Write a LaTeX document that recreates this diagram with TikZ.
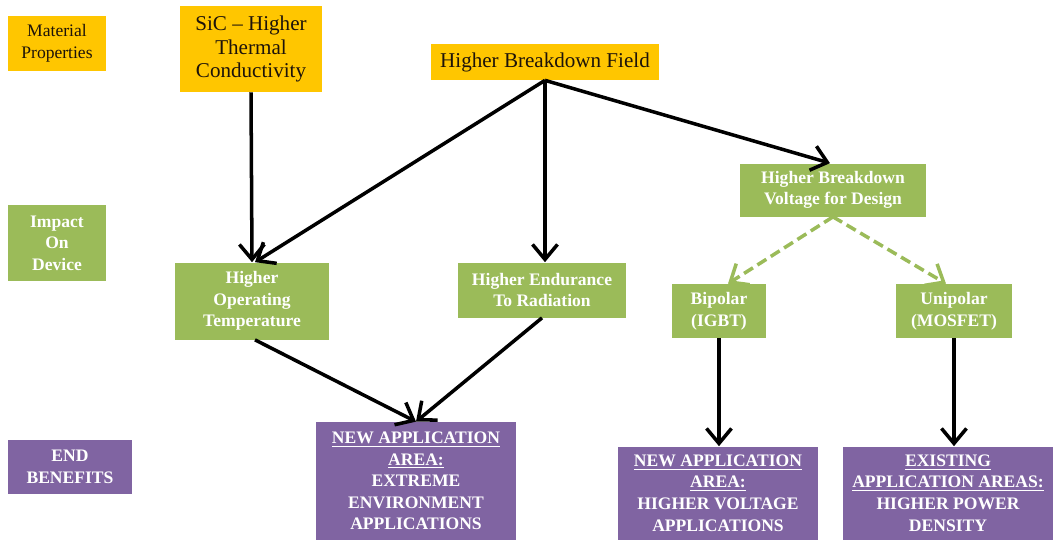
\documentclass[tikz,border=0pt]{standalone}
\usepackage{fontspec}
\setmainfont{Liberation Serif}
\usetikzlibrary{arrows.meta}

\definecolor{propyellow}{HTML}{FFC600}
\definecolor{impgreen}{HTML}{9BBB59}
\definecolor{benpurple}{HTML}{8064A2}

\tikzset{
  prop/.style={fill=propyellow, text=black!85!brown, align=center, inner sep=0pt, font=\fontsize{12}{13.2}\selectfont},
  impact/.style={fill=impgreen, text=white, align=center, inner sep=0pt, font=\bfseries\fontsize{10}{12.3}\selectfont},
  benefit/.style={fill=benpurple, text=white, align=center, inner sep=0pt, font=\bfseries\fontsize{10}{12.3}\selectfont},
  arr/.style={black, line width=2pt, -{Straight Barb[length=3mm,width=5mm]}},
  dasharr/.style={impgreen, line width=2pt, dashed, dash pattern=on 6pt off 3pt, -{Straight Barb[length=3mm,width=5mm]}}
}

\begin{document}
\begin{tikzpicture}[x=0.02cm, y=-0.02cm]
\useasboundingbox (0,0) rectangle (1054,542);

% row labels
\node[prop, font=\fontsize{10}{12.5}\selectfont, minimum width=1.98cm, minimum height=1.1cm] (matprop) at (57, 43) {Material\\Properties};
\node[impact, minimum width=1.96cm, minimum height=1.52cm] (impdev) at (57, 243) {Impact\\On\\Device};
\node[benefit, minimum width=2.5cm, minimum height=1.08cm] (endben) at (70, 467) {END\\BENEFITS};

% material properties
\node[prop, minimum width=2.84cm, minimum height=1.72cm] (sic) at (251, 49) {SiC -- Higher\\Thermal\\Conductivity};
\node[prop, minimum width=4.56cm, minimum height=0.72cm] (hbf) at (545, 62) {Higher Breakdown Field};

% impact on device
\node[impact, minimum width=3.1cm, minimum height=1.54cm] (hot) at (252, 301) {Higher\\Operating\\Temperature};
\node[impact, minimum width=3.36cm, minimum height=1.1cm] (her) at (542, 290) {Higher Endurance\\To Radiation};
\node[impact, minimum width=3.74cm, minimum height=1.06cm] (hbvd) at (833, 190) {Higher Breakdown\\Voltage for Design};
\node[impact, minimum width=1.88cm, minimum height=1.08cm] (bip) at (719, 311) {Bipolar\\(IGBT)};
\node[impact, minimum width=2.32cm, minimum height=1.08cm] (unip) at (954, 311) {Unipolar\\(MOSFET)};

% end benefits
\node[benefit, minimum width=4.02cm, minimum height=2.36cm] (newext) at (416, 481)
  {\underline{NEW APPLICATION}\\\underline{AREA:}\\EXTREME\\ENVIRONMENT\\APPLICATIONS};
\node[benefit, minimum width=4.0cm, minimum height=1.86cm] (newhv) at (718, 493)
  {\underline{NEW APPLICATION}\\\underline{AREA:}\\HIGHER VOLTAGE\\APPLICATIONS};
\node[benefit, minimum width=4.22cm, minimum height=1.86cm] (exist) at (948, 493)
  {\underline{EXISTING}\\\underline{APPLICATION AREAS:}\\HIGHER POWER\\DENSITY};

% connectors
\draw[arr] (sic.south) -- (hot.north);
\draw[arr] (hbf.south) -- ([xshift=0.06cm]hot.north);
\draw[arr] (hbf.south) -- (hbf.south |- her.north);
\draw[arr] (hbf.south) -- ([xshift=-0.06cm]hbvd.north);
\draw[dasharr] (hbvd.south) -- ([xshift=0.18cm]bip.north);
\draw[dasharr] (hbvd.south) -- ([xshift=-0.16cm]unip.north);
\draw[arr] ([xshift=0.06cm]hot.south) -- (newext.north);
\draw[arr] (her.south) -- (newext.north);
\draw[arr] (bip.south) -- (bip.south |- newhv.north);
\draw[arr] (unip.south) -- (unip.south |- exist.north);

\end{tikzpicture}
\end{document}
